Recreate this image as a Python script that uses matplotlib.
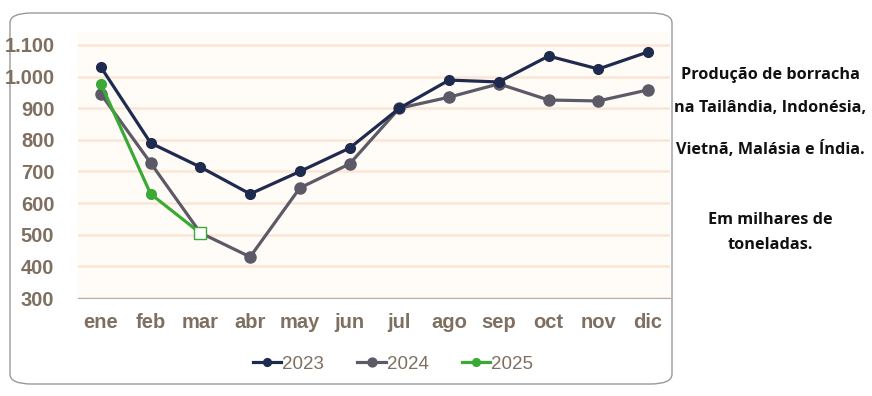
import matplotlib.pyplot as plt
from matplotlib.patches import FancyBboxPatch

meses = ["ene", "feb", "mar", "abr", "may", "jun", "jul", "ago", "sep", "oct", "nov", "dic"]
v2023 = [1030, 790, 714, 629, 700, 774, 900, 989, 983, 1065, 1024, 1078]
v2024 = [945, 727, 506, 430, 648, 724, 900, 935, 977, 926, 923, 958]
v2025 = [977, 629, 505]
yticks = [300, 400, 500, 600, 700, 800, 900, 1000, 1100]
ylabels = ["300", "400", "500", "600", "700", "800", "900", "1.000", "1.100"]

plt.rcParams["font.family"] = ["Liberation Sans", "DejaVu Sans"]
brown = "#7f6f60"

fig = plt.figure(figsize=(8.72, 3.96), dpi=100)
box = FancyBboxPatch((10 / 872, 12 / 396), 662 / 872, 371 / 396,
                     boxstyle="round,pad=0,rounding_size=0.025",
                     transform=fig.transFigure, facecolor="white",
                     edgecolor="#9a9a9a", linewidth=1.0, zorder=-5)
fig.patches.append(box)

ax = fig.add_axes([78 / 872, 1 - 298 / 396, 592 / 872, 266 / 396])
ax.set_facecolor("#fffcf8")
x = list(range(len(meses)))

ax.plot(x, v2023, color="#1f2a4f", lw=2.3, marker="o", ms=7, label="2023", zorder=3)
ax.plot(x, v2024, color="#5c5a66", lw=2.3, marker="o", ms=8, label="2024", zorder=2)
ax.plot(x[:3], v2025, color="#3aa935", lw=2.3, marker="o", ms=7, label="2025", zorder=4)
ax.plot(x[2], v2025[2], marker="s", ms=8, mfc="white", mec="#3aa935", mew=1, zorder=5)

ax.set_xlim(-0.46, 11.44)
ax.set_ylim(300, 1141)
ax.set_yticks(yticks)
ax.set_yticklabels(ylabels)
ax.set_xticks(x)
ax.set_xticklabels(meses)
ax.yaxis.grid(True, color="#fbe6d6", lw=1.8)
ax.set_axisbelow(True)
for s in ["top", "right", "left"]:
    ax.spines[s].set_visible(False)
ax.spines["bottom"].set_color("#b0b0b0")
ax.tick_params(length=0, colors=brown, labelsize=14.5)
ax.tick_params(axis="y", pad=17)
ax.tick_params(axis="x", pad=11)
for t in ax.get_xticklabels() + ax.get_yticklabels():
    t.set_fontweight("bold")

leg = fig.legend(handles=ax.get_lines()[:3], loc="center", bbox_to_anchor=(393 / 872, 1 - 364 / 396),
                 ncol=3, frameon=False, fontsize=13.5, handlelength=1.5, handletextpad=0.05,
                 columnspacing=1.8, markerscale=0.8)
for t in leg.get_texts():
    t.set_color(brown)

side = [("Produção de borracha", 75), ("na Tailândia, Indonésia,", 108),
        ("Vietnã, Malásia e Índia.", 150), ("Em milhares de", 220), ("toneladas.", 245)]
for txt, yp in side:
    fig.text(770 / 872, 1 - yp / 396, txt, ha="center", va="center", family="Open Sans",
             fontsize=11.7, fontweight="bold", color="#111111")

fig.savefig("out.png", dpi=100)
